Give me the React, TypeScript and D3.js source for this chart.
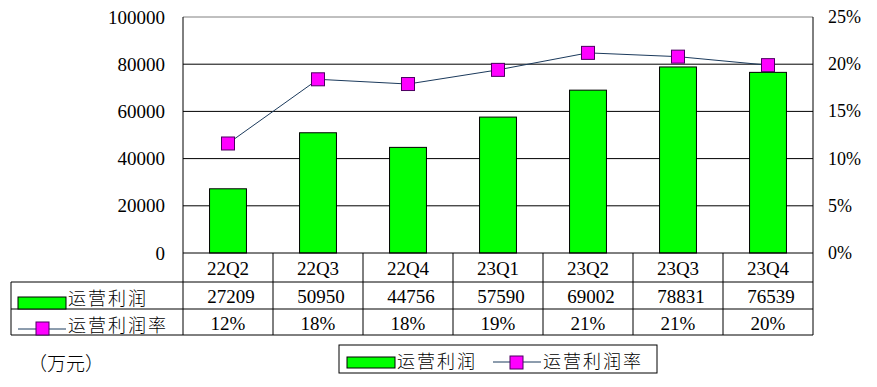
import React from "react";
import * as d3 from "d3";

const categories = ["22Q2", "22Q3", "22Q4", "23Q1", "23Q2", "23Q3", "23Q4"];
const profit = [27209, 50950, 44756, 57590, 69002, 78831, 76539];
const rate = [11.6, 18.4, 17.9, 19.4, 21.2, 20.8, 19.9];
const rateLabels = ["12%", "18%", "18%", "19%", "21%", "21%", "20%"];
const leftTicks = [0, 20000, 40000, 60000, 80000, 100000];
const rightTicks = [0, 5, 10, 15, 20, 25];
const seriesNames = ["运营利润", "运营利润率"];
const unitLabel = "（万元）";

const W = 877;
const H = 387;
const plotL = 183;
const plotR = 813;
const plotT = 17;
const plotB = 253;
const row0B = 282;
const row1B = 309;
const row2B = 335;
const tableL = 11;

const NUM_FONT = "'Liberation Serif', 'DejaVu Serif', serif";
const CJK_FONT = "'Noto Sans CJK SC', sans-serif";
const GREEN = "#00FF00";
const MAGENTA = "#FF00FF";
const LINE = "#1B3A5C";

export default function App() {
  const x = d3.scaleBand<string>().domain(categories).range([plotL, plotR]).paddingInner(0).paddingOuter(0);
  const y = d3.scaleLinear().domain([0, 100000]).range([plotB, plotT]);
  const yr = d3.scaleLinear().domain([0, 25]).range([plotB, plotT]);
  const bw = x.bandwidth() * 0.41;
  const ms = 13;

  const line = d3
    .line<number>()
    .x((_, i) => (x(categories[i]) as number) + x.bandwidth() / 2)
    .y((d) => yr(d));

  return (
    <svg
      width={W}
      height={H}
      style={{ position: "absolute", left: 0, top: 0, background: "#fff" }}
    >
      <rect x={0} y={0} width={W} height={H} fill="#fff" />
      {leftTicks.slice(1, -1).map((t) => (
        <line key={t} x1={plotL} x2={plotR} y1={y(t)} y2={y(t)} stroke="#000" strokeWidth={1} />
      ))}
      <line x1={plotL} x2={plotR} y1={plotT} y2={plotT} stroke="#808080" strokeWidth={1} />
      {profit.map((v, i) => {
        const cx = (x(categories[i]) as number) + x.bandwidth() / 2;
        return (
          <rect
            key={i}
            x={cx - bw / 2}
            y={y(v)}
            width={bw}
            height={plotB - y(v)}
            fill={GREEN}
            stroke="#000"
            strokeWidth={1}
          />
        );
      })}
      <path d={line(rate) || ""} fill="none" stroke={LINE} strokeWidth={1} />
      {rate.map((v, i) => {
        const cx = (x(categories[i]) as number) + x.bandwidth() / 2;
        return (
          <rect
            key={i}
            x={cx - ms / 2}
            y={yr(v) - ms / 2}
            width={ms}
            height={ms}
            fill={MAGENTA}
            stroke="#4B0060"
            strokeWidth={1}
          />
        );
      })}
      {leftTicks.map((t) => (
        <text
          key={t}
          x={165}
          y={y(t)}
          textAnchor="end"
          dominantBaseline="central"
          fontFamily={NUM_FONT}
          fontSize={19}
          fill="#000"
        >
          {t}
        </text>
      ))}
      {rightTicks.map((t) => (
        <text
          key={t}
          x={828}
          y={yr(t)}
          textAnchor="start"
          dominantBaseline="central"
          fontFamily={NUM_FONT}
          fontSize={18}
          fill="#000"
        >
          {t + "%"}
        </text>
      ))}
      <line x1={plotL} x2={plotL} y1={plotT} y2={row2B} stroke="#000" />
      <line x1={plotR} x2={plotR} y1={plotT} y2={row2B} stroke="#000" />
      <line x1={plotL} x2={plotR} y1={plotB} y2={plotB} stroke="#000" />
      <line x1={tableL} x2={plotR} y1={row0B} y2={row0B} stroke="#000" />
      <line x1={tableL} x2={plotR} y1={row1B} y2={row1B} stroke="#000" />
      <line x1={tableL} x2={plotR} y1={row2B} y2={row2B} stroke="#000" />
      <line x1={tableL} x2={tableL} y1={row0B} y2={row2B} stroke="#000" />
      {categories.slice(1).map((c) => (
        <line key={c} x1={x(c)} x2={x(c)} y1={plotB} y2={row2B} stroke="#000" />
      ))}
      {categories.map((c, i) => {
        const cx = (x(c) as number) + x.bandwidth() / 2;
        return (
          <g key={c} fontFamily={NUM_FONT} fontSize={19} fill="#000" textAnchor="middle">
            <text x={cx} y={(plotB + row0B) / 2 + 1} dominantBaseline="central">
              {c}
            </text>
            <text x={cx + 3} y={(row0B + row1B) / 2 + 1} dominantBaseline="central">
              {profit[i]}
            </text>
            <text x={cx} y={(row1B + row2B) / 2 + 1} dominantBaseline="central">
              {rateLabels[i]}
            </text>
          </g>
        );
      })}
      <rect x={18} y={297} width={48} height={12} fill={GREEN} stroke="#000" />
      <text x={68} y={297} dominantBaseline="central" fontFamily={CJK_FONT} fontWeight={300} fontSize={18} letterSpacing={2} fill="#000">
        {seriesNames[0]}
      </text>
      <line x1={18} x2={66} y1={329} y2={329} stroke={LINE} />
      <rect x={36} y={322} width={ms} height={ms} fill={MAGENTA} stroke="#4B0060" />
      <text x={68} y={324} dominantBaseline="central" fontFamily={CJK_FONT} fontWeight={300} fontSize={18} letterSpacing={2} fill="#000">
        {seriesNames[1]}
      </text>
      <text x={28} y={362} dominantBaseline="central" fontFamily={CJK_FONT} fontWeight={300} fontSize={19} fill="#000">
        {unitLabel}
      </text>
      <rect x={339} y={345} width={318} height={28} fill="#fff" stroke="#000" />
      <rect x={347} y={357} width={48} height={11} fill={GREEN} stroke="#000" />
      <text x={397} y={360} dominantBaseline="central" fontFamily={CJK_FONT} fontWeight={300} fontSize={18} letterSpacing={2} fill="#000">
        {seriesNames[0]}
      </text>
      <line x1={493} x2={541} y1={362} y2={362} stroke={LINE} />
      <rect x={510} y={356} width={ms} height={ms} fill={MAGENTA} stroke="#4B0060" />
      <text x={543} y={360} dominantBaseline="central" fontFamily={CJK_FONT} fontWeight={300} fontSize={18} letterSpacing={2} fill="#000">
        {seriesNames[1]}
      </text>
    </svg>
  );
}
